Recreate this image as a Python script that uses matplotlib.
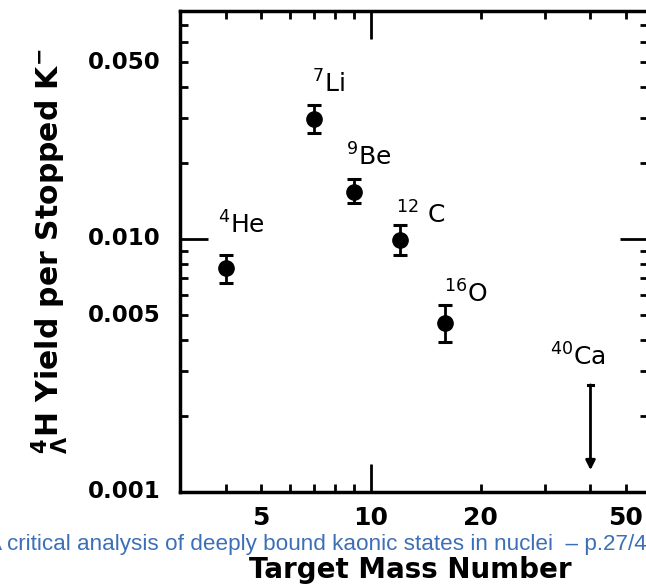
import matplotlib
matplotlib.use('Agg')
import numpy as np
import matplotlib.pyplot as plt
from matplotlib.ticker import FixedLocator, LogLocator, NullFormatter

# target nuclei, mass number and 4/Lambda H yield per stopped K-
targets = ['$^{4}$He', '$^{7}$Li', '$^{9}$Be', '$^{12}$ C', '$^{16}$O']
mass = [4, 7, 9, 12, 16]
yields = [0.00768, 0.0298, 0.0153, 0.0099, 0.00466]
yield_low = [0.0067, 0.0262, 0.0139, 0.00864, 0.00392]
yield_high = [0.00864, 0.0339, 0.0173, 0.0114, 0.00548]

# 40Ca is only an upper limit
limit_label = '$^{40}$Ca'
limit_mass = 40
limit_top = 0.00265
limit_bottom = 0.00122

x_ticklabels = [5, 10, 20, 50]
y_ticklabels = [(0.05, '0.050'), (0.01, '0.010'), (0.005, '0.005'), (0.001, '0.001')]

# label offsets in points from each point
label_offsets = [(-5.8, 25), (-1.4, 18.7), (-5.8, 19.4), (-2.9, 12.2), (-0.7, 14.4)]

plt.rcParams['font.family'] = 'DejaVu Sans'
plt.rcParams['mathtext.fontset'] = 'custom'
plt.rcParams['mathtext.rm'] = 'DejaVu Sans'
plt.rcParams['mathtext.bf'] = 'DejaVu Sans:bold'

fig = plt.figure(figsize=(6.46, 5.85), dpi=100)
ax = fig.add_axes([0.2786, 0.159, 0.7245, 0.823])
ax.set_xscale('log')
ax.set_yscale('log')
ax.set_xlim(3, 57.5)
ax.set_ylim(0.001, 0.08)

yerr = [np.array(yields) - np.array(yield_low), np.array(yield_high) - np.array(yields)]
ax.errorbar(mass, yields, yerr=yerr, fmt='o', color='black',
            ms=11, capsize=5, elinewidth=2, capthick=2.2)
for m, y, t, off in zip(mass, yields, targets, label_offsets):
    ax.annotate(t, (m, y), xytext=off, textcoords='offset points',
                fontsize=18, ha='left', va='baseline')

ax.annotate('', xy=(limit_mass, limit_bottom), xytext=(limit_mass, limit_top),
            arrowprops=dict(arrowstyle='-|>', color='black', lw=2, mutation_scale=14,
                            shrinkA=0, shrinkB=0))
ax.plot([limit_mass * 0.985, limit_mass * 1.015], [limit_top, limit_top], color='black', lw=2.2)
ax.annotate(limit_label, (limit_mass, limit_top), xytext=(-28.8, 13.7),
            textcoords='offset points', fontsize=18, ha='left', va='baseline')

for s in ax.spines.values():
    s.set_linewidth(2.5)

ax.xaxis.set_major_locator(FixedLocator([10]))
ax.xaxis.set_minor_locator(FixedLocator([4, 5, 6, 7, 8, 9, 20, 30, 40, 50]))
ax.xaxis.set_major_formatter(NullFormatter())
ax.xaxis.set_minor_formatter(NullFormatter())
ax.yaxis.set_major_locator(FixedLocator([0.01]))
ax.yaxis.set_minor_locator(LogLocator(base=10, subs=range(2, 10)))
ax.yaxis.set_major_formatter(NullFormatter())
ax.yaxis.set_minor_formatter(NullFormatter())
ax.tick_params(which='both', direction='in', top=True, right=True, width=2)
ax.tick_params(which='major', length=20)
ax.tick_params(which='minor', length=6)

for v in x_ticklabels:
    ax.text(v, -0.054, str(v), transform=ax.get_xaxis_transform(), ha='center', va='center',
            fontsize=18, fontweight='bold')
for v, s in y_ticklabels:
    ax.text(-0.042, v, s, transform=ax.get_yaxis_transform(), ha='right', va='center',
            fontsize=16.5, fontweight='bold')

fig.text(0.077, 0.571, r'${}^{\mathbf{4}}_{\mathbf{\Lambda}}$H Yield per Stopped K$^{\mathbf{-}}$',
         rotation=90, ha='center', va='center', fontsize=21.5, fontweight='bold')
fig.text(0.635, 0.026, 'Target Mass Number', ha='center', va='center',
         fontsize=20, fontweight='bold')
fig.text(-0.020, 0.070, 'A critical analysis of deeply bound kaonic states in nuclei  \u2013 p.27/4',
         ha='left', va='center', fontsize=16.2, color='#3d6fb6', family='Liberation Sans')

fig.savefig('out.png', dpi=100)
